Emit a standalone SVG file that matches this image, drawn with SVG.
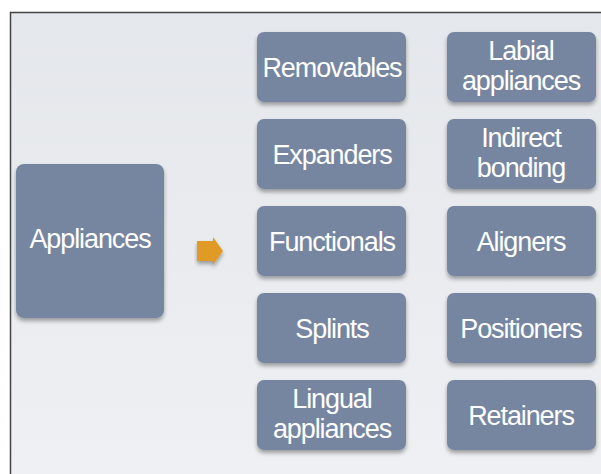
<svg xmlns="http://www.w3.org/2000/svg" width="601" height="474" viewBox="0 0 601 474">
  <defs>
    <linearGradient id="bg" x1="0" y1="0" x2="0" y2="1">
      <stop offset="0" stop-color="#e4e7eb"/>
      <stop offset="1" stop-color="#eef0f3"/>
    </linearGradient>
    <filter id="shadow" x="-10%" y="-10%" width="120%" height="130%">
      <feGaussianBlur in="SourceAlpha" stdDeviation="2"/>
      <feOffset dx="0" dy="3" result="b"/>
      <feComponentTransfer><feFuncA type="linear" slope="0.35"/></feComponentTransfer>
      <feMerge><feMergeNode/><feMergeNode in="SourceGraphic"/></feMerge>
    </filter>
    <style>
      .box { fill: #7686a0; filter: url(#shadow); }
      .lbl { fill: #ffffff; font-family: "Liberation Sans", Arial, sans-serif; font-size: 27px; text-anchor: middle; letter-spacing: -1.1px; }
    </style>
  </defs>

  <rect x="0" y="0" width="601" height="474" fill="#ffffff"/>
  <rect x="10" y="12" width="591" height="462" fill="url(#bg)"/>
  <path d="M10.5 474 V12.5 H601" fill="none" stroke="#444" stroke-width="1.5"/>

  <g id="appliances">
    <rect class="box" x="16" y="164" width="148" height="154" rx="8"/>
    <text class="lbl" x="90" y="248">Appliances</text>
  </g>

  <g id="connectors">
    <path d="M197 241 H213 V237 L223 251 L213 265 V261 H197 Z" fill="#e09a28" filter="url(#shadow)"/>
  </g>

  <g id="removables">
    <rect class="box" x="257" y="32" width="149" height="70" rx="7"/>
    <text class="lbl" x="332" y="77">Removables</text>
  </g>
  <g id="expanders">
    <rect class="box" x="257" y="119" width="149" height="70" rx="7"/>
    <text class="lbl" x="332" y="164">Expanders</text>
  </g>
  <g id="functionals">
    <rect class="box" x="257" y="206" width="149" height="70" rx="7"/>
    <text class="lbl" x="332" y="251">Functionals</text>
  </g>
  <g id="splints">
    <rect class="box" x="257" y="293" width="149" height="70" rx="7"/>
    <text class="lbl" x="332" y="338">Splints</text>
  </g>
  <g id="lingual">
    <rect class="box" x="257" y="380" width="149" height="70" rx="7"/>
    <text class="lbl" x="332" y="408">Lingual</text>
    <text class="lbl" x="332" y="438">appliances</text>
  </g>

  <g id="labial">
    <rect class="box" x="447" y="32" width="149" height="70" rx="7"/>
    <text class="lbl" x="521" y="60">Labial</text>
    <text class="lbl" x="521" y="90">appliances</text>
  </g>
  <g id="indirect-bonding">
    <rect class="box" x="447" y="119" width="149" height="70" rx="7"/>
    <text class="lbl" x="521" y="147">Indirect</text>
    <text class="lbl" x="521" y="177">bonding</text>
  </g>
  <g id="aligners">
    <rect class="box" x="447" y="206" width="149" height="70" rx="7"/>
    <text class="lbl" x="521" y="251">Aligners</text>
  </g>
  <g id="positioners">
    <rect class="box" x="447" y="293" width="149" height="70" rx="7"/>
    <text class="lbl" x="521" y="338">Positioners</text>
  </g>
  <g id="retainers">
    <rect class="box" x="447" y="380" width="149" height="70" rx="7"/>
    <text class="lbl" x="521" y="425">Retainers</text>
  </g>
</svg>
